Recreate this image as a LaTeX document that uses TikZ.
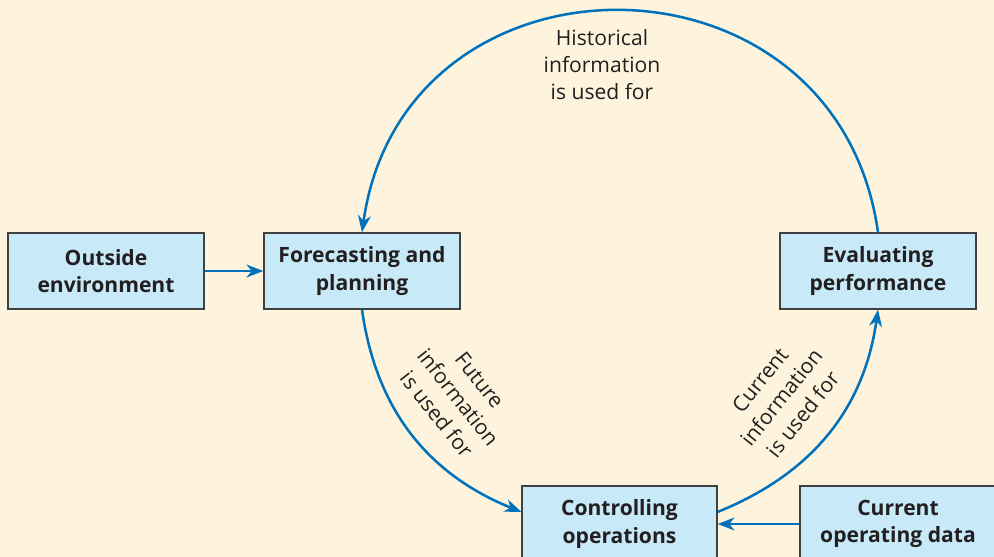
\documentclass[tikz,border=0pt]{standalone}
\usepackage{fontspec}
\setmainfont{Open Sans}
\usetikzlibrary{arrows.meta,positioning}
\definecolor{papercolor}{RGB}{254,243,220}
\definecolor{boxcolor}{RGB}{199,233,248}
\definecolor{linecolor}{RGB}{0,114,188}
\definecolor{lettercolor}{RGB}{35,31,32}
\definecolor{bordercolor}{RGB}{64,64,64}
\tikzset{
	block/.style={
		rectangle,
		draw=bordercolor,
		line width=0.9pt,
		fill=boxcolor,
		text=lettercolor,
		minimum height=1.9cm,
		minimum width=4.9cm,
		align=center,
		font=\fontsize{15}{19.5}\selectfont\bfseries
	},
	arrow/.style={
		draw=linecolor,
		line width=1.8pt,
		->,
		>={Stealth[length=4.2mm,width=3.2mm,inset=1.3mm]}
	},
	note/.style={
		text=lettercolor,
		align=center,
		font=\fontsize{15}{19.5}\selectfont
	},
}

\begin{document}
\begin{tikzpicture}[node distance=2cm,on grid]
	\fill[papercolor] (0,0) rectangle (24.85,13.925);
	\useasboundingbox (0,0) rectangle (24.85,13.925);
	\node[block] (outside) at (2.65,7.15) {Outside\\environment};
	\node[block] (forecast) [right=6.4cm of outside] {Forecasting and\\planning};
	\node[block] (evaluate) [right=12.9cm of forecast] {Evaluating\\performance};
	\node[block,minimum width=4.875cm] (control) [below right=6.325cm and 6.4375cm of forecast] {Controlling\\operations};
	\node[block] (current) [right=6.9625cm of control] {Current\\operating data};
	\draw[arrow] (outside) -- (forecast);
	\draw[arrow] (current) -- (control);
	\draw[arrow] (evaluate.north) to[out=98,in=82,looseness=1.48] node[note,midway,below=0.3cm,xshift=-0.45cm] {Historical\\information\\is used for} (forecast.north);
	\draw[arrow] (forecast.south) to[out=-82,in=158] node[note,midway,sloped,above=0.45cm] {Future\\information\\is used for} (control.173);
	\draw[arrow] (control.7) to[out=22,in=-98] node[note,midway,sloped,above=0.45cm] {Current\\information\\is used for} (evaluate.south);
\end{tikzpicture}
\end{document}
